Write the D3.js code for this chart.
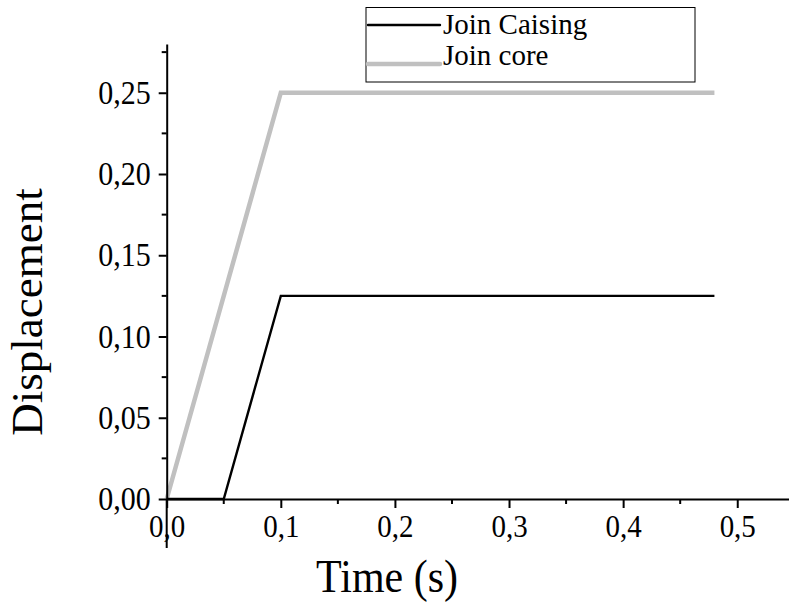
<!DOCTYPE html>
<html>
<head>
<meta charset="utf-8">
<script src="https://cdn.jsdelivr.net/npm/d3@7"></script>
<style>
html,body{margin:0;padding:0;background:#fff;}
</style>
</head>
<body>
<svg id="chart" width="789" height="606"></svg>
<script>
// Data
const caisingTime = [0, 0.05, 0.1, 0.48];
const caisingDisp = [0, 0, 0.125, 0.125];
const coreTime = [0, 0.1, 0.48];
const coreDisp = [0, 0.25, 0.25];
const xTickValues = [0, 0.1, 0.2, 0.3, 0.4, 0.5];
const xTickLabels = ["0,0", "0,1", "0,2", "0,3", "0,4", "0,5"];
const yTickValues = [0, 0.05, 0.10, 0.15, 0.20, 0.25];
const yTickLabels = ["0,00", "0,05", "0,10", "0,15", "0,20", "0,25"];
const xMinor = [0.05, 0.15, 0.25, 0.35, 0.45];
const yMinor = [0.025, 0.075, 0.125, 0.175, 0.225, 0.275];
const seriesNames = ["Join Caising", "Join core"];

const FONT = "'Liberation Serif', 'Times New Roman', Times, serif";
const STRETCH = 1.1;
const svg = d3.select("#chart");
const x0 = 166.7, x1 = 794.3;
const x = d3.scaleLinear().domain([0, 0.55]).range([x0, x1]);
const y = d3.scaleLinear().domain([0, 0.28]).range([499, 44]);

// Lines
const caising = caisingTime.map((t, i) => [t, caisingDisp[i]]);
const core = coreTime.map((t, i) => [t, coreDisp[i]]);
const line = d3.line().x(d => x(d[0])).y(d => y(d[1]));

svg.append("path").datum(core).attr("d", line)
  .attr("fill", "none").attr("stroke", "#c0c0c0").attr("stroke-width", 4.5);
svg.append("path").datum(caising).attr("d", line)
  .attr("fill", "none").attr("stroke", "#000").attr("stroke-width", 2.4);

// X axis
const xAxis = d3.axisBottom(x).tickValues(xTickValues)
  .tickFormat((d, i) => xTickLabels[i]).tickSize(9).tickPadding(6).tickSizeOuter(0);
const gx = svg.append("g").attr("transform", `translate(0,${y(0)})`).call(xAxis);
gx.append("g").selectAll("line").data(xMinor).join("line")
  .attr("x1", d => x(d)).attr("x2", d => x(d)).attr("y1", 0).attr("y2", 5)
  .attr("stroke", "#000").attr("stroke-width", 2);
gx.selectAll(".domain").attr("stroke-width", 2);
gx.selectAll(".tick line").attr("stroke-width", 2);
gx.selectAll(".tick text").style("font-family", FONT).style("font-size", "29px")
  .attr("y", 0).attr("dy", null).attr("transform", `translate(0,38) scale(1,${STRETCH})`);

// Y axis
const yAxis = d3.axisLeft(y).tickValues(yTickValues)
  .tickFormat((d, i) => yTickLabels[i]).tickSize(8).tickPadding(8).tickSizeOuter(0);
const gy = svg.append("g").attr("transform", `translate(${x0},0)`).call(yAxis);
gy.append("g").selectAll("line").data(yMinor).join("line")
  .attr("y1", d => y(d)).attr("y2", d => y(d)).attr("x1", 0).attr("x2", -5)
  .attr("stroke", "#000").attr("stroke-width", 2);
gy.selectAll(".domain").attr("stroke-width", 2);
gy.selectAll(".tick line").attr("stroke-width", 2);
gy.selectAll(".tick text").style("font-family", FONT).style("font-size", "30px")
  .attr("x", 0).attr("transform", `translate(-16,0) scale(1,${STRETCH})`);
// y axis extension below the origin
gy.append("line").attr("x1", 0).attr("x2", 0).attr("y1", y(0)).attr("y2", 548)
  .attr("stroke", "#000").attr("stroke-width", 2);

// Axis titles
svg.append("text").attr("transform", `translate(387,592) scale(1,${STRETCH})`).attr("text-anchor", "middle")
  .style("font-family", FONT).style("font-size", "42px").text("Time (s)");
svg.append("text").attr("transform", "translate(42,312) rotate(-90)")
  .attr("text-anchor", "middle").style("font-family", FONT).style("font-size", "45px").text("Displacement");

// Legend
const lg = svg.append("g");
lg.append("rect").attr("x", 366).attr("y", 7.5).attr("width", 329).attr("height", 74.5)
  .attr("fill", "#fff").attr("stroke", "#000").attr("stroke-width", 1);
const legColors = ["#000", "#c0c0c0"], legWidths = [2.4, 4.5], legY = [25, 64], legTextY = [34, 65];
seriesNames.forEach((n, i) => {
  lg.append("line").attr("x1", 368).attr("x2", 440).attr("y1", legY[i]).attr("y2", legY[i])
    .attr("stroke", legColors[i]).attr("stroke-width", legWidths[i]).attr("stroke-linecap", "round");
  lg.append("text").attr("x", 443).attr("y", legTextY[i])
    .style("font-family", FONT).style("font-size", "29px").text(n);
});
</script>
</body>
</html>
